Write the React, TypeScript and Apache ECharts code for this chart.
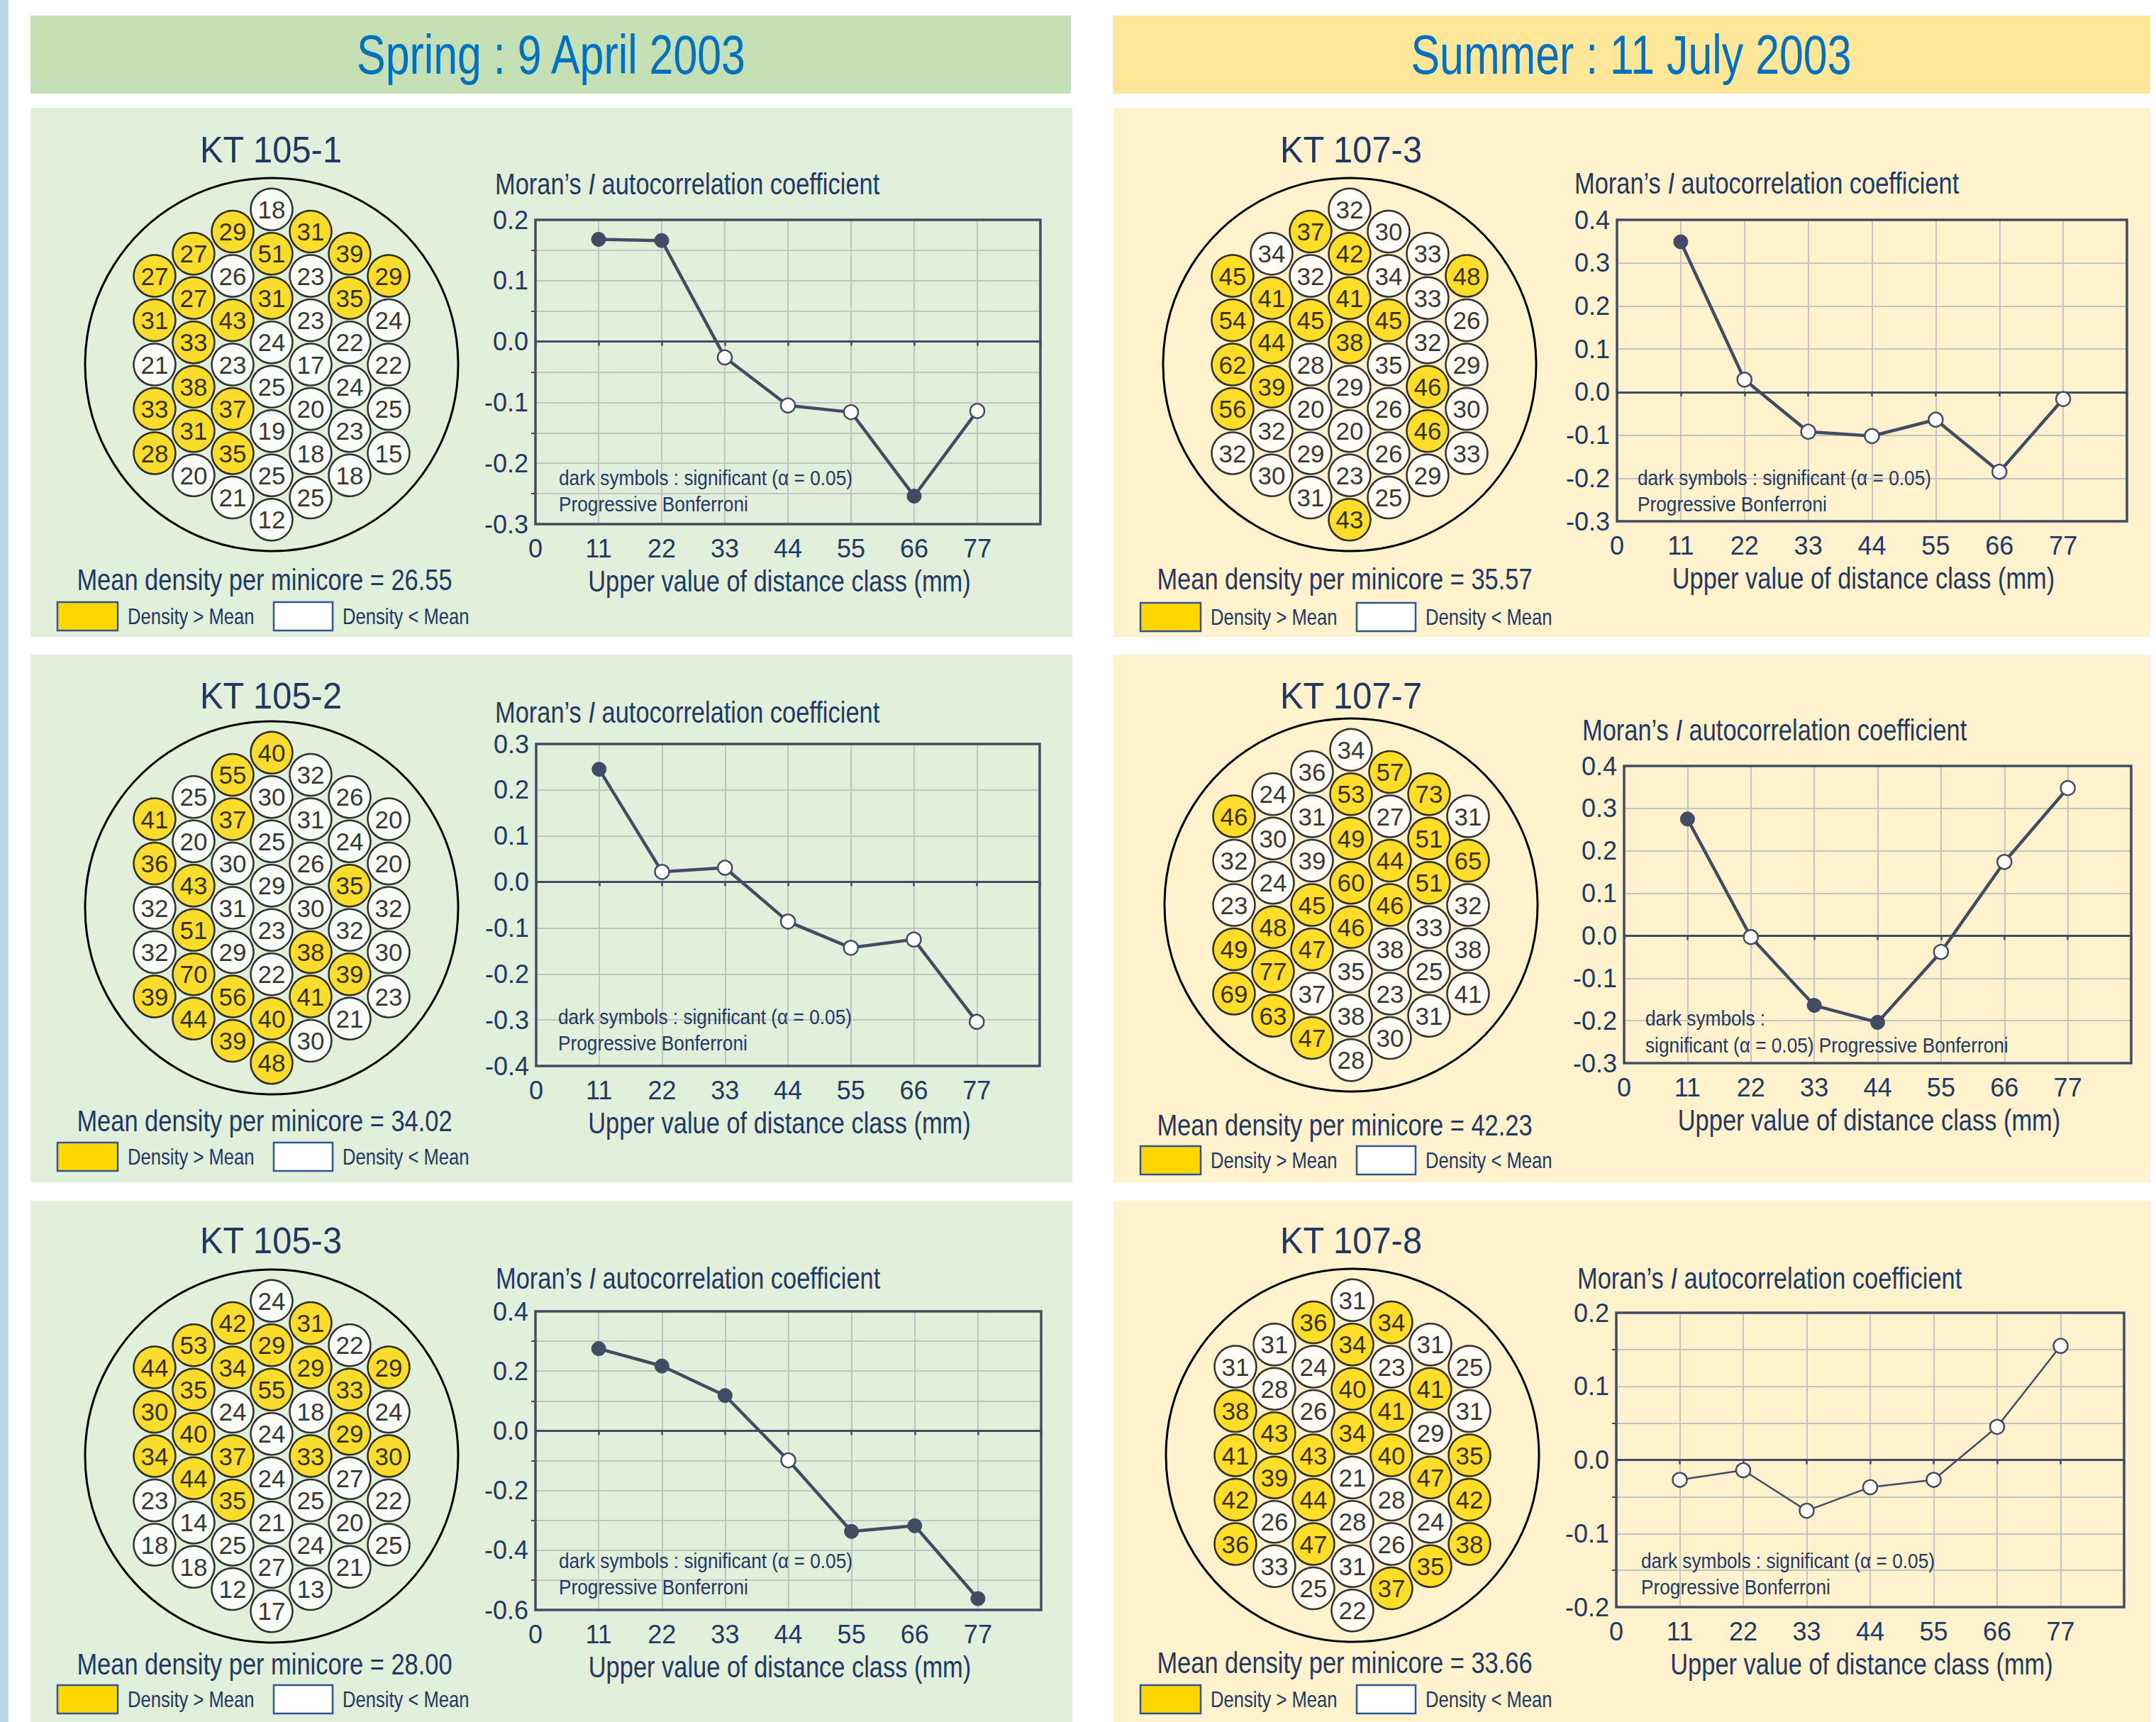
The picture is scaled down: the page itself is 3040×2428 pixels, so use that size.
import React, { useEffect, useRef } from 'react';
import * as echarts from 'echarts';

// ---------------- data ----------------
const seasonTitles = ['Spring : 9 April 2003', 'Summer : 11 July 2003'];
const panelTitles = ['KT 105-1', 'KT 105-2', 'KT 105-3', 'KT 107-3', 'KT 107-7', 'KT 107-8'];
const meanDensities = [26.55, 34.02, 28.0, 35.57, 42.23, 33.66];
const distanceClasses = [11, 22, 33, 44, 55, 66, 77];
const xAxisName = 'Upper value of distance class (mm)';
const legendLabels = ['Density > Mean', 'Density < Mean'];

// minicore densities, hexagonal core, columns left -> right, each top -> bottom
const hexKT105_1 = [
  [27, 31, 21, 33, 28],
  [27, 27, 33, 38, 31, 20],
  [29, 26, 43, 23, 37, 35, 21],
  [18, 51, 31, 24, 25, 19, 25, 12],
  [31, 23, 23, 17, 20, 18, 25],
  [39, 35, 22, 24, 23, 18],
  [29, 24, 22, 25, 15],
];
const hexKT105_2 = [
  [41, 36, 32, 32, 39],
  [25, 20, 43, 51, 70, 44],
  [55, 37, 30, 31, 29, 56, 39],
  [40, 30, 25, 29, 23, 22, 40, 48],
  [32, 31, 26, 30, 38, 41, 30],
  [26, 24, 35, 32, 39, 21],
  [20, 20, 32, 30, 23],
];
const hexKT105_3 = [
  [44, 30, 34, 23, 18],
  [53, 35, 40, 44, 14, 18],
  [42, 34, 24, 37, 35, 25, 12],
  [24, 29, 55, 24, 24, 21, 27, 17],
  [31, 29, 18, 33, 25, 24, 13],
  [22, 33, 29, 27, 20, 21],
  [29, 24, 30, 22, 25],
];
const hexKT107_3 = [
  [45, 54, 62, 56, 32],
  [34, 41, 44, 39, 32, 30],
  [37, 32, 45, 28, 20, 29, 31],
  [32, 42, 41, 38, 29, 20, 23, 43],
  [30, 34, 45, 35, 26, 26, 25],
  [33, 33, 32, 46, 46, 29],
  [48, 26, 29, 30, 33],
];
const hexKT107_7 = [
  [46, 32, 23, 49, 69],
  [24, 30, 24, 48, 77, 63],
  [36, 31, 39, 45, 47, 37, 47],
  [34, 53, 49, 60, 46, 35, 38, 28],
  [57, 27, 44, 46, 38, 23, 30],
  [73, 51, 51, 33, 25, 31],
  [31, 65, 32, 38, 41],
];
const hexKT107_8 = [
  [31, 38, 41, 42, 36],
  [31, 28, 43, 39, 26, 33],
  [36, 24, 26, 43, 44, 47, 25],
  [31, 34, 40, 34, 21, 28, 31, 22],
  [34, 23, 41, 40, 28, 26, 37],
  [31, 41, 29, 47, 24, 35],
  [25, 31, 35, 42, 38],
];

// Moran's I correlogram values and significance (1 = dark symbol)
const moranKT105_1 = [0.168, 0.166, -0.026, -0.105, -0.116, -0.254, -0.114];
const sigKT105_1 = [1, 1, 0, 0, 0, 1, 0];
const moranKT105_2 = [0.245, 0.022, 0.031, -0.086, -0.143, -0.125, -0.304];
const sigKT105_2 = [1, 0, 0, 0, 0, 0, 0];
const moranKT105_3 = [0.275, 0.217, 0.118, -0.099, -0.337, -0.318, -0.562];
const sigKT105_3 = [1, 1, 1, 0, 1, 1, 1];
const moranKT107_3 = [0.349, 0.029, -0.092, -0.102, -0.064, -0.185, -0.016];
const sigKT107_3 = [1, 0, 0, 0, 0, 0, 0];
const moranKT107_7 = [0.275, -0.003, -0.164, -0.204, -0.038, 0.174, 0.348];
const sigKT107_7 = [1, 0, 1, 1, 0, 0, 0];
const moranKT107_8 = [-0.027, -0.014, -0.069, -0.037, -0.027, 0.045, 0.155];
const sigKT107_8 = [0, 0, 0, 0, 0, 0, 0];

// y axis ticks: [min, max, interval]
const yTicksKT105_1 = [-0.3, 0.2, 0.1];
const yTicksKT105_2 = [-0.4, 0.3, 0.1];
const yTicksKT105_3 = [-0.6, 0.4, 0.2];
const yTicksKT107_3 = [-0.3, 0.4, 0.1];
const yTicksKT107_7 = [-0.3, 0.4, 0.1];
const yTicksKT107_8 = [-0.2, 0.2, 0.1];

const annotationStd = ['dark symbols : significant (\u03b1 = 0.05)', 'Progressive Bonferroni'];
const annotationAlt = ['dark symbols :', 'significant (\u03b1 = 0.05) Progressive Bonferroni'];

const PANELS = [
  { hex: hexKT105_1, moran: moranKT105_1, sig: sigKT105_1, y: yTicksKT105_1, note: annotationStd },
  { hex: hexKT105_2, moran: moranKT105_2, sig: sigKT105_2, y: yTicksKT105_2, note: annotationStd },
  { hex: hexKT105_3, moran: moranKT105_3, sig: sigKT105_3, y: yTicksKT105_3, note: annotationStd },
  { hex: hexKT107_3, moran: moranKT107_3, sig: sigKT107_3, y: yTicksKT107_3, note: annotationStd },
  { hex: hexKT107_7, moran: moranKT107_7, sig: sigKT107_7, y: yTicksKT107_7, note: annotationAlt },
  { hex: hexKT107_8, moran: moranKT107_8, sig: sigKT107_8, y: yTicksKT107_8, note: annotationStd },
];

// ---------------- layout / style ----------------
const W = 3040;
const H = 2428;
const FONT = "'Liberation Sans Narrow','Arial Narrow','Liberation Sans',Arial,sans-serif";
const NAVY = '#1f3864';
const LINE = '#414b63';
const GRID_GRAY = '#c3c3c3';
const YELLOW = '#ffd700';
const COL_STEP = 55;
const ROW_HALF = 31.25;

const LAYOUT = [
  { px: 43, pw: 1469, pt: 152, pb: 898, kt: [382, 211], hex: [383, 514], mt: [698, 259], plot: [755, 310, 712, 429], an: [788, 673, 710], mean: [373, 817], leg: 869, lw: 4.5, minor: true },
  { px: 43, pw: 1469, pt: 923, pb: 1667, kt: [382, 981], hex: [383, 1280], mt: [698, 1004], plot: [756, 1049, 710, 454], an: [787, 1433, 1470], mean: [373, 1580], leg: 1631, lw: 4.5, minor: false },
  { px: 43, pw: 1469, pt: 1693, pb: 2428, kt: [382, 1749], hex: [383, 2053], mt: [699, 1802], plot: [755, 1849, 713, 421], an: [788, 2200, 2237], mean: [373, 2346], leg: 2396, lw: 4.5, minor: true },
  { px: 1570, pw: 1462, pt: 152, pb: 898, kt: [1905, 211], hex: [1903, 514], mt: [2220, 258], plot: [2280, 310, 719, 425], an: [2309, 673, 710], mean: [1896, 816], leg: 870, lw: 4.5, minor: false },
  { px: 1570, pw: 1462, pt: 923, pb: 1667, kt: [1905, 981], hex: [1905, 1276], mt: [2231, 1029], plot: [2290, 1080, 715, 419], an: [2320, 1435, 1473], mean: [1896, 1586], leg: 1636, lw: 4.5, minor: false },
  { px: 1570, pw: 1462, pt: 1693, pb: 2428, kt: [1905, 1749], hex: [1907, 2052], mt: [2224, 1802], plot: [2279, 1851, 716, 415], an: [2314, 2200, 2237], mean: [1896, 2344], leg: 2396, lw: 2.5, minor: true },
];

function rect(x: number, y: number, w: number, h: number, fill: string, z: number, stroke?: string) {
  return {
    type: 'rect', silent: true, z,
    shape: { x, y, width: w, height: h },
    style: stroke ? { fill, stroke, lineWidth: 2.5 } : { fill },
  };
}

function text(x: number, y: number, t: string, size: number, align = 'left', fill = NAVY, sx = 1) {
  return {
    type: 'text', silent: true, z: 30, x, y, scaleX: sx,
    style: { text: t, fill, fontSize: size, fontFamily: FONT, textAlign: align, textVerticalAlign: 'middle' },
  };
}

function buildOption() {
  const grid: any[] = [];
  const xAxis: any[] = [];
  const yAxis: any[] = [];
  const series: any[] = [];
  const graphic: any[] = [];

  graphic.push(rect(0, 0, 12, H, '#bdd7ee', -20));
  graphic.push(rect(43, 22, 1467, 110, '#c5e0b4', -20));
  graphic.push(rect(1569, 22, 1463, 110, '#ffe699', -20));
  graphic.push(text(777, 77, seasonTitles[0], 78, 'center', '#0070c0', 0.78));
  graphic.push(text(2300, 77, seasonTitles[1], 78, 'center', '#0070c0', 0.78));

  PANELS.forEach((p, k) => {
    const L = LAYOUT[k];
    const mean = meanDensities[k];
    graphic.push(rect(L.px, L.pt, L.pw, L.pb - L.pt, k < 3 ? '#e2efda' : '#fff2cc', -20));
    graphic.push(text(L.kt[0], L.kt[1], panelTitles[k], 52, 'center', NAVY, 0.94));
    graphic.push({
      type: 'circle', silent: true, z: -5,
      shape: { cx: L.hex[0], cy: L.hex[1], r: 263 },
      style: { fill: 'none', stroke: '#000', lineWidth: 3 },
    });
    graphic.push(text(L.mean[0], L.mean[1], 'Mean density per minicore = ' + mean.toFixed(2), 42, 'center', NAVY, 0.82));
    graphic.push(rect(L.px + 38, L.leg - 20, 85, 40, YELLOW, 5, '#2f5597'));
    graphic.push(text(L.px + 137, L.leg, legendLabels[0], 32, 'left', NAVY, 0.8));
    graphic.push(rect(L.px + 343, L.leg - 20, 83, 40, '#ffffff', 5, '#2f5597'));
    graphic.push(text(L.px + 440, L.leg, legendLabels[1], 32, 'left', NAVY, 0.8));
    graphic.push({
      type: 'text', silent: true, z: 30, x: L.mt[0], y: L.mt[1], scaleX: 0.82,
      style: {
        text: '{a|Moran\u2019s }{b|I}{a| autocorrelation coefficient}',
        fill: NAVY, textAlign: 'left', textVerticalAlign: 'middle',
        rich: {
          a: { fontSize: 42, fontFamily: FONT, fill: NAVY },
          b: { fontSize: 42, fontFamily: FONT, fontStyle: 'italic', fill: NAVY },
        },
      },
    });
    graphic.push(text(L.an[0], L.an[1], p.note[0], 30, 'left', NAVY, 0.875));
    graphic.push(text(L.an[0], L.an[2], p.note[1], 30, 'left', NAVY, 0.875));
    graphic.push(text(L.plot[0] + L.plot[2] / 2 - 12, L.plot[1] + L.plot[3] + 80, xAxisName, 42, 'center', NAVY, 0.82));

    // ---- hexagonal minicore map ----
    const gh = grid.length;
    grid.push({ left: L.hex[0] - 4 * COL_STEP, top: L.hex[1] - 8 * ROW_HALF, width: 8 * COL_STEP, height: 16 * ROW_HALF });
    const xh = xAxis.length;
    xAxis.push({ gridIndex: gh, type: 'value', min: -4, max: 4, show: false });
    const yh = yAxis.length;
    yAxis.push({ gridIndex: gh, type: 'value', min: -1, max: 15, inverse: true, show: false });
    const items: any[] = [];
    p.hex.forEach((col, c) => {
      const start = Math.abs(c - 3);
      col.forEach((v, i) => {
        items.push({ value: [c - 3, start + 2 * i, v], itemStyle: { color: v > mean ? YELLOW : '#ffffff' } });
      });
    });
    series.push({
      type: 'scatter', xAxisIndex: xh, yAxisIndex: yh, z: 5,
      symbol: 'circle', symbolSize: 59,
      itemStyle: { borderColor: '#000', borderWidth: 2.5 },
      label: {
        show: true, position: 'inside', fontSize: 35, color: '#000', fontFamily: FONT,
        formatter: (q: any) => String(q.value[2]),
      },
      data: items,
    });

    // ---- correlogram ----
    const gl = grid.length;
    grid.push({
      left: L.plot[0], top: L.plot[1], width: L.plot[2], height: L.plot[3],
      show: true, borderColor: LINE, borderWidth: 3.5, backgroundColor: 'transparent', z: 4,
    });
    const xl = xAxis.length;
    xAxis.push({
      gridIndex: gl, type: 'value', min: 0, max: 88, interval: 11, position: 'bottom',
      axisLine: { show: false, onZero: false }, axisTick: { show: false },
      axisLabel: {
        fontSize: 36, color: NAVY, fontFamily: FONT, margin: 16,
        formatter: (v: number) => (v === 88 ? '' : String(v)),
      },
      splitLine: { show: true, showMinLine: false, showMaxLine: false, lineStyle: { color: GRID_GRAY, width: 2 } },
    });
    xAxis.push({
      gridIndex: gl, type: 'value', min: 0, max: 88, interval: 11, position: 'bottom', z: 3,
      axisLine: { show: true, onZero: true, lineStyle: { color: LINE, width: 3 } },
      axisTick: { show: true, length: 6, lineStyle: { color: LINE, width: 2.5 } },
      axisLabel: { show: false }, splitLine: { show: false },
    });
    const yl = yAxis.length;
    yAxis.push({
      gridIndex: gl, type: 'value', min: p.y[0], max: p.y[1], interval: p.y[2],
      axisLine: { show: false }, axisTick: { show: false },
      minorTick: { show: L.minor, splitNumber: 2, length: 6, lineStyle: { color: LINE, width: 2 } },
      axisLabel: { fontSize: 36, color: NAVY, fontFamily: FONT, margin: 10, formatter: (v: number) => v.toFixed(1) },
      splitLine: { show: true, showMinLine: false, showMaxLine: false, lineStyle: { color: GRID_GRAY, width: 2 } },
      minorSplitLine: { show: L.minor, lineStyle: { color: GRID_GRAY, width: 2 } },
    });
    series.push({
      type: 'line', xAxisIndex: xl, yAxisIndex: yl, z: 10,
      symbol: 'circle', symbolSize: 20, showAllSymbol: true,
      lineStyle: { color: LINE, width: L.lw },
      itemStyle: { color: LINE },
      data: distanceClasses.map((d, i) => ({
        value: [d, p.moran[i]],
        itemStyle: p.sig[i]
          ? { color: LINE, borderColor: LINE, borderWidth: 1 }
          : { color: '#ffffff', borderColor: LINE, borderWidth: 2.5 },
      })),
    });
  });

  return { animation: false, backgroundColor: '#ffffff', grid, xAxis, yAxis, series, graphic };
}

export default function App() {
  const ref = useRef<HTMLDivElement>(null);
  useEffect(() => {
    const chart = echarts.init(ref.current!, undefined, { renderer: 'svg', width: W, height: H });
    chart.setOption(buildOption() as any);
    return () => chart.dispose();
  }, []);
  return <div ref={ref} style={{ position: 'absolute', left: 0, top: 0, width: W, height: H }} />;
}
